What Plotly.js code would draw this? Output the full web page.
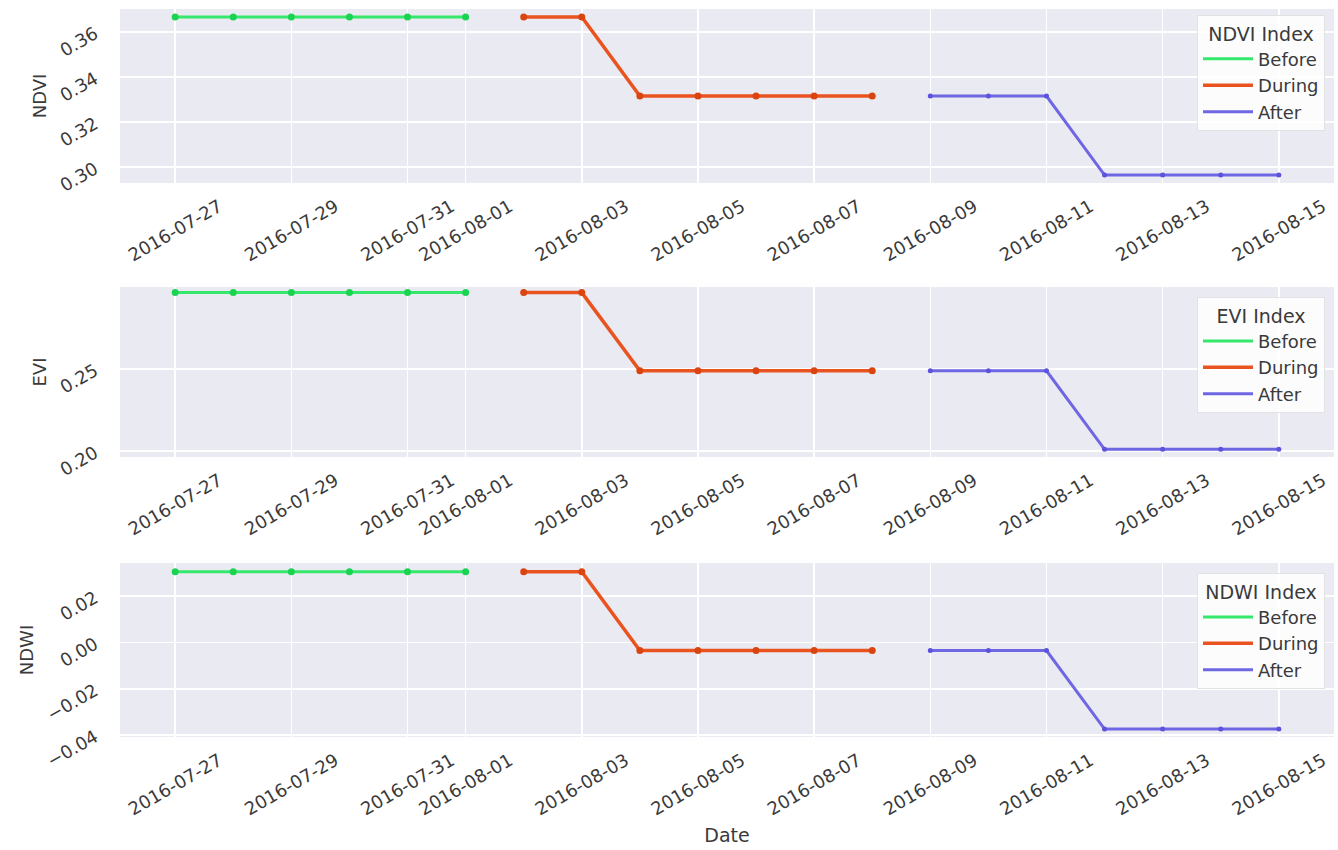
<!DOCTYPE html>
<html>
<head>
<meta charset="utf-8">
<script src="https://cdn.plot.ly/plotly-3.0.1.min.js"></script>
<style>html,body{margin:0;padding:0;background:#fff;}#chart{width:1338px;height:850px;}</style>
</head>
<body>
<div id="chart"></div>
<script>
// ---- data ----
const beforeDates = ['2016-07-27','2016-07-28','2016-07-29','2016-07-30','2016-07-31','2016-08-01'];
const duringDates = ['2016-08-02','2016-08-03','2016-08-04','2016-08-05','2016-08-06','2016-08-07','2016-08-08'];
const afterDates  = ['2016-08-09','2016-08-10','2016-08-11','2016-08-12','2016-08-13','2016-08-14','2016-08-15'];

const ndviBefore = [0.3667,0.3667,0.3667,0.3667,0.3667,0.3667];
const ndviDuring = [0.3667,0.3667,0.3316,0.3316,0.3316,0.3316,0.3316];
const ndviAfter  = [0.3316,0.3316,0.3316,0.2965,0.2965,0.2965,0.2965];

const eviBefore = [0.2963,0.2963,0.2963,0.2963,0.2963,0.2963];
const eviDuring = [0.2963,0.2963,0.2488,0.2488,0.2488,0.2488,0.2488];
const eviAfter  = [0.2488,0.2488,0.2488,0.2012,0.2012,0.2012,0.2012];

const ndwiBefore = [0.0305,0.0305,0.0305,0.0305,0.0305,0.0305];
const ndwiDuring = [0.0305,0.0305,-0.0035,-0.0035,-0.0035,-0.0035,-0.0035];
const ndwiAfter  = [-0.0035,-0.0035,-0.0035,-0.0374,-0.0374,-0.0374,-0.0374];

const xTickVals = ['2016-07-27','2016-07-29','2016-07-31','2016-08-01','2016-08-03','2016-08-05','2016-08-07','2016-08-09','2016-08-11','2016-08-13','2016-08-15'];
const xTickText = ['2016-07-27','2016-07-29','2016-07-31','2016-08-01','2016-08-03','2016-08-05','2016-08-07','2016-08-09','2016-08-11','2016-08-13','2016-08-15'];

const phaseNames = ['Before','During','After'];
const indexNames = ['NDVI','EVI','NDWI'];
const legendTitles = ['NDVI Index','EVI Index','NDWI Index'];

// ---- styles ----
const lineColors = ['#35E86B','#E9531F','#6E66E2'];
const markerColors = ['#1AD451','#DA4410','#5C52DC'];
const lineWidths = [3,3.5,3];
const markerSizes = [7,7,5];

const series = [
  [ndviBefore, ndviDuring, ndviAfter],
  [eviBefore, eviDuring, eviAfter],
  [ndwiBefore, ndwiDuring, ndwiAfter]
];
const phaseDates = [beforeDates, duringDates, afterDates];

const traces = [];
series.forEach((s, i) => {
  const xa = i === 0 ? 'x' : 'x' + (i + 1);
  const ya = i === 0 ? 'y' : 'y' + (i + 1);
  const lg = i === 0 ? 'legend' : 'legend' + (i + 1);
  s.forEach((vals, j) => {
    traces.push({
      x: phaseDates[j], y: vals, type: 'scatter', mode: 'lines+markers',
      name: phaseNames[j], xaxis: xa, yaxis: ya,
      line: {color: lineColors[j], width: lineWidths[j]},
      marker: {color: markerColors[j], size: markerSizes[j]},
      showlegend: false
    });
  });
  // legend entries: line only (as in the reference)
  s.forEach((vals, j) => {
    traces.push({
      x: [null], y: [null], type: 'scatter', mode: 'lines',
      name: phaseNames[j], xaxis: xa, yaxis: ya, legend: lg,
      line: {color: lineColors[j], width: lineWidths[j]},
      showlegend: true
    });
  });
});

const txt = '#3a3a3a';
const xRange = ['2016-07-26 01:12', '2016-08-15 22:48'];

function xAxis(anchor, withTitle) {
  const ax = {
    type: 'date', range: xRange, anchor: anchor,
    tickmode: 'array', tickvals: xTickVals, ticktext: xTickText,
    tickangle: -30, ticklabelshift: 44, ticklabelstandoff: 9,
    showgrid: true, gridcolor: '#ffffff', gridwidth: 1.5,
    zeroline: false, showline: false, ticks: '',
    tickfont: {size: 18, color: txt}
  };
  if (withTitle) ax.title = {text: 'Date', font: {size: 19, color: txt}, standoff: 10};
  return ax;
}
function yAxis(anchor, domain, range, dtick, title) {
  return {
    anchor: anchor, domain: domain, range: range,
    tick0: 0, dtick: dtick, tickformat: '.2f',
    tickangle: -30, ticklabelstandoff: 24,
    showgrid: true, gridcolor: '#ffffff', gridwidth: 1.5,
    zeroline: false, showline: false, ticks: '',
    tickfont: {size: 18, color: txt},
    title: {text: title, font: {size: 18, color: txt}, standoff: 4}
  };
}
function legend(y, title) {
  return {
    x: 0.9926, xanchor: 'right', y: y, yanchor: 'top',
    bgcolor: 'rgba(255,255,255,0.85)', bordercolor: '#e2e2e2', borderwidth: 1,
    title: {text: title, side: 'top center', font: {size: 19, color: txt}},
    font: {size: 18, color: txt},
    tracegroupgap: 0, itemwidth: 50
  };
}

const layout = {
  width: 1338, height: 850,
  margin: {l: 120, r: 4, t: 9, b: 113},
  paper_bgcolor: '#ffffff', plot_bgcolor: '#EAEAF2',
  font: {family: 'DejaVu Sans, sans-serif', size: 18, color: txt},
  xaxis: xAxis('y', false),
  xaxis2: xAxis('y2', false),
  xaxis3: xAxis('y3', true),
  yaxis: yAxis('x', [0.761, 1], [0.293, 0.3702], 0.02, indexNames[0]),
  yaxis2: yAxis('x2', [0.3846, 0.6181], [0.1965, 0.2997], 0.05, indexNames[1]),
  yaxis3: yAxis('x3', [0, 0.239], [-0.0408, 0.0343], 0.02, indexNames[2]),
  legend: legend(0.9918, legendTitles[0]),
  legend2: legend(0.6044, legendTitles[1]),
  legend3: legend(0.2253, legendTitles[2]),
  showlegend: true
};

Plotly.newPlot('chart', traces, layout, {displayModeBar: false, staticPlot: true});
</script>
</body>
</html>
